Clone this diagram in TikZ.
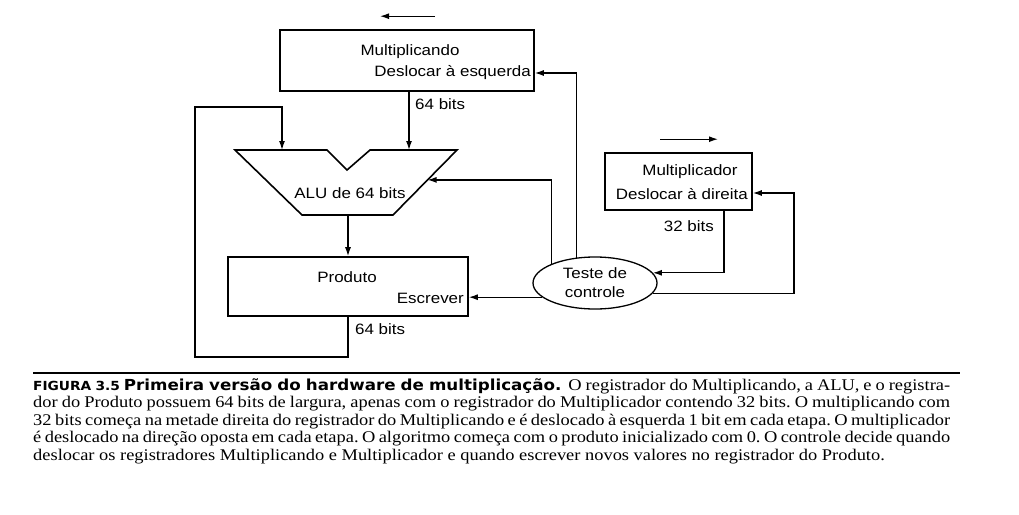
\documentclass[tikz,border=0pt]{standalone}
\usepackage{fontspec}
\setmainfont{Liberation Serif}[FakeStretch=1.13]
\setsansfont{Liberation Sans}[FakeStretch=1.13]
\newfontfamily\figfont{DejaVu Sans Bold}[FakeStretch=1.1]
\usepackage{tikz}
\usetikzlibrary{arrows.meta,shapes.geometric,calc}

\begin{document}
\begin{tikzpicture}[x=1pt,y=-1pt,
    >={Latex[length=9pt,width=6pt]},
    wire/.style={line width=1.3pt},
    reg/.style={draw,line width=1.6pt,inner sep=0pt},
    lbl/.style={font=\sffamily\fontsize{15}{19}\selectfont,inner sep=0pt}]
    \useasboundingbox (0,0) rectangle (1019,514);

    % registers
    \node[reg,minimum width=254,minimum height=61] (mcand) at (407,60.5) {};
    \node[reg,minimum width=147,minimum height=57] (mplier) at (678.5,181.5) {};
    \node[reg,minimum width=240,minimum height=59] (prod) at (348,286.5) {};
    \node[reg,ellipse,line width=1.3pt,minimum width=124,minimum height=52,
        lbl,align=center] (ctrl) at (595,283) {Teste de\\controle};

    \node[lbl] (mcandname) at (410,52) {Multiplicando};
    \node[lbl,anchor=east] (mcandshift) at (531,73) {Deslocar à esquerda};
    \node[lbl] (mpliername) at (690,172) {Multiplicador};
    \node[lbl,anchor=east] (miplershift) at (748,194) {Deslocar à direita};
    \node[lbl] (prodname) at (347,277) {Produto};
    \node[lbl,anchor=east] (prodwrite) at (464,298) {Escrever};

    % ALU
    \coordinate (alutl) at (235,150);
    \coordinate (alun1) at (327,150);
    \coordinate (alunb) at (347,170);
    \coordinate (alun2) at (370,150);
    \coordinate (alutr) at (457,150);
    \coordinate (alubr) at (393,215);
    \coordinate (alubl) at (302,215);
    \draw[line width=1.6pt] (alutl) -- (alun1) -- (alunb) -- (alun2) -- (alutr)
        -- (alubr) -- (alubl) -- cycle;
    \node[lbl] (aluname) at (350,193) {ALU de 64 bits};

    % shift directions
    \draw[wire,->] ([xshift=28pt,yshift=13pt]mcand.north) -- ++(-55,0);
    \draw[wire,->] ([xshift=-18.5pt,yshift=13pt]mplier.north) -- ++(58,0);

    % data paths
    \coordinate (mcandout) at ([xshift=2pt]mcand.south);
    \draw[wire,->] (mcandout) -- (mcandout |- alutl);
    \node[lbl,anchor=west] (mcandbits) at (415,104) {64 bits};

    \draw[wire,->] (prod.north |- alubl) -- (prod.north);

    \coordinate (loopbl) at (195,357);
    \coordinate (looptl) at (195,107);
    \coordinate (aluina) at (282,150);
    \draw[wire,->] (prod.south) |- (loopbl) -- (looptl) -| (aluina);
    \node[lbl,anchor=west] (prodbits) at (355,329) {64 bits};

    \coordinate (mplierout) at ([xshift=45.5pt]mplier.south);
    \draw[wire,->] (mplierout) |- (ctrl.10);
    \node[lbl,anchor=east] (mplierbits) at (714,226) {32 bits};

    % control lines
    \coordinate (mcandin) at ([yshift=-12.5pt]mcand.east);
    \coordinate (aluin) at ($(alutr)!0.46!(alubr)$);
    \coordinate (mplierin) at ([yshift=-11.5pt]mplier.east);
    \draw[wire,->] (ctrl.126) |- (mcandin);
    \draw[wire,->] (ctrl.156) |- (aluin);
    \draw[wire,->] (ctrl.195) -- (ctrl.195 -| prod.east);
    \draw[wire,->] (ctrl.-10) -- ++(141,0) |- (mplierin);

    % caption
    \draw[line width=2.5pt] (33,373) -- (960,373);
    \node[anchor=north west,inner sep=0pt,text width=917pt,align=justify,
        font=\fontsize{16.3}{17.5}\selectfont] (caption) at (33,378)
        {\frenchspacing\emergencystretch=3em
        {\figfont\fontsize{12.5}{17.5}\selectfont FIGURA 3.5}\
        {\figfont\fontsize{15.2}{17.5}\selectfont Primeira versão do hardware de multiplicação.}\hspace{7pt}%
        O registrador do Multiplicando, a ALU, e o registra-\linebreak
        dor do Produto possuem 64 bits de largura, apenas com o registrador
        do Multiplicador contendo 32 bits. O multiplicando com\linebreak
        32 bits começa na metade direita do registrador do Multiplicando e é
        deslocado à esquerda 1 bit em cada etapa. O multiplicador\linebreak
        é deslocado na direção oposta em cada etapa. O algoritmo começa com
        o produto inicializado com 0. O controle decide quando\linebreak
        deslocar os registradores Multiplicando e Multiplicador e quando
        escrever novos valores no registrador do Produto.};

\end{tikzpicture}
\end{document}
